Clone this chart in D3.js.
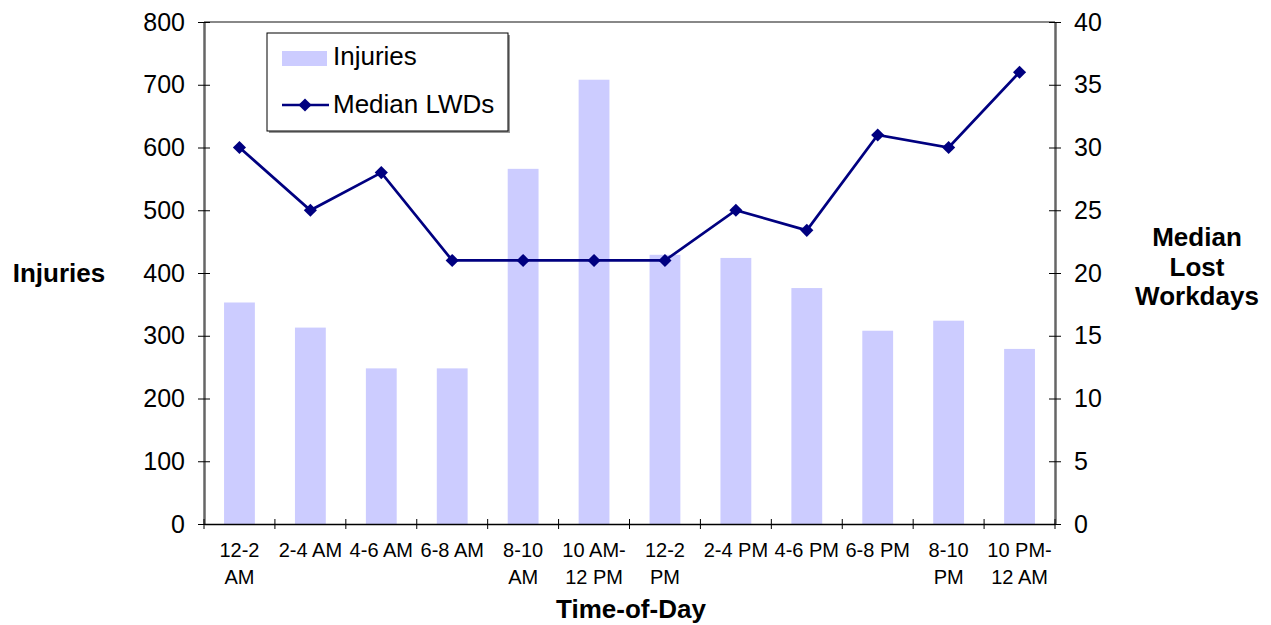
<!DOCTYPE html>
<html><head><meta charset="utf-8">
<script src="https://cdn.jsdelivr.net/npm/d3@7"></script>
<style>body{margin:0;background:#fff}svg text{font-family:"Liberation Sans",Arial,sans-serif;fill:#000}</style>
</head><body>
<svg id="c" width="1271" height="625"></svg>
<script>
const categories = [["12-2","AM"],["2-4 AM"],["4-6 AM"],["6-8 AM"],["8-10","AM"],["10 AM-","12 PM"],["12-2","PM"],["2-4 PM"],["4-6 PM"],["6-8 PM"],["8-10","PM"],["10 PM-","12 AM"]];
const injuries = [353, 313, 248, 248, 566, 708, 429, 424, 376, 308, 324, 279];
const medianLWDs = [30, 25, 28, 21, 21, 21, 21, 25, 23.4, 31, 30, 36];
const leftTicks = [0,100,200,300,400,500,600,700,800];
const rightTicks = [0,5,10,15,20,25,30,35,40];

const svg = d3.select("#c");
const L = 204, R = 1055, T = 22, B = 524;
const keys = categories.map((c,i)=>i);
const x = d3.scaleBand().domain(keys).range([L,R]).paddingInner(1.3/2.3).paddingOuter(0.65/2.3);
const xb = d3.scaleBand().domain(keys).range([L,R]);
const yL = d3.scaleLinear().domain([0,800]).range([B,T]);
const yR = d3.scaleLinear().domain([0,40]).range([B,T]);

// plot area top border
svg.append("line").attr("x1",L).attr("x2",R).attr("y1",T).attr("y2",T).attr("stroke","#888").attr("stroke-width",2);

// bars
svg.selectAll("rect.bar").data(injuries).join("rect").attr("class","bar")
  .attr("x",(d,i)=>x(i)).attr("width",x.bandwidth())
  .attr("y",d=>yL(d)).attr("height",d=>B-yL(d)).attr("fill","#ccccff");

// axes
const axL = svg.append("g").attr("transform",`translate(${L},0)`)
  .call(d3.axisLeft(yL).tickValues(leftTicks).tickSizeInner(6).tickSizeOuter(0).tickPadding(12));
const axR = svg.append("g").attr("transform",`translate(${R},0)`)
  .call(d3.axisRight(yR).tickValues(rightTicks).tickSizeInner(6).tickSizeOuter(0).tickPadding(14));
[axL,axR].forEach(a=>{
  a.select(".domain").attr("stroke","#666").attr("stroke-width",2.5);
  a.selectAll(".tick line").attr("stroke","#000").attr("x1",-6).attr("x2",6);
  a.selectAll(".tick text").attr("font-size",25).attr("font-family","Liberation Sans, Arial, sans-serif");
});
axL.selectAll(".tick text").attr("x",-19);
axR.selectAll(".tick text").attr("x",19);

// x axis
const axB = svg.append("g").attr("transform",`translate(0,${B})`)
  .call(d3.axisBottom(xb).tickValues([]).tickSizeOuter(0));
axB.select(".domain").attr("stroke","#000").attr("stroke-width",1.5);
const bounds = d3.range(13).map(i=> i<12 ? xb(i) : R);
svg.selectAll("line.xt").data(bounds).join("line").attr("class","xt")
  .attr("x1",d=>d).attr("x2",d=>d).attr("y1",B-5).attr("y2",B+5).attr("stroke","#000");
const xl = svg.selectAll("text.xl").data(categories).join("text").attr("class","xl")
  .attr("text-anchor","middle").attr("font-size",20)
  .attr("transform",(d,i)=>`translate(${xb(i)+xb.bandwidth()/2},0)`);
xl.selectAll("tspan").data(d=>d).join("tspan").attr("x",0).attr("y",(d,j)=>557+j*27).text(d=>d);

// line
const line = d3.line().x((d,i)=>xb(i)+xb.bandwidth()/2).y(d=>yR(d));
svg.append("path").datum(medianLWDs).attr("d",line).attr("fill","none").attr("stroke","#000080").attr("stroke-width",2.7);
const diamond = d3.symbol().type(d3.symbolDiamond2).size(110);
svg.selectAll("path.pt").data(medianLWDs).join("path").attr("class","pt")
  .attr("d",diamond).attr("fill","#000080")
  .attr("transform",(d,i)=>`translate(${xb(i)+xb.bandwidth()/2},${yR(d)})`);

// legend
const lg = svg.append("g");
lg.append("rect").attr("x",269).attr("y",35).attr("width",241).attr("height",98).attr("fill","#999");
lg.append("rect").attr("x",267).attr("y",33).attr("width",241).attr("height",98).attr("fill","#fff").attr("stroke","#000").attr("stroke-width",1);
lg.append("rect").attr("x",282).attr("y",51).attr("width",45).attr("height",15).attr("fill","#ccccff");
lg.append("text").attr("x",333).attr("y",65).attr("font-size",26).text("Injuries");
lg.append("line").attr("x1",282).attr("x2",329).attr("y1",105).attr("y2",105).attr("stroke","#000080").attr("stroke-width",2.7);
lg.append("path").attr("d",diamond).attr("fill","#000080").attr("transform","translate(305,105)");
lg.append("text").attr("x",333).attr("y",113).attr("font-size",26).text("Median LWDs");

// titles
svg.append("text").attr("x",59).attr("y",282).attr("text-anchor","middle").attr("font-size",26).attr("font-weight","bold").text("Injuries");
const rt = svg.append("text").attr("text-anchor","middle").attr("font-size",26).attr("font-weight","bold");
["Median","Lost","Workdays"].forEach((t,j)=>rt.append("tspan").attr("x",1197).attr("y",246+j*29.5).text(t));
svg.append("text").attr("x",631).attr("y",618).attr("text-anchor","middle").attr("font-size",26).attr("font-weight","bold").text("Time-of-Day");
</script>
</body></html>
